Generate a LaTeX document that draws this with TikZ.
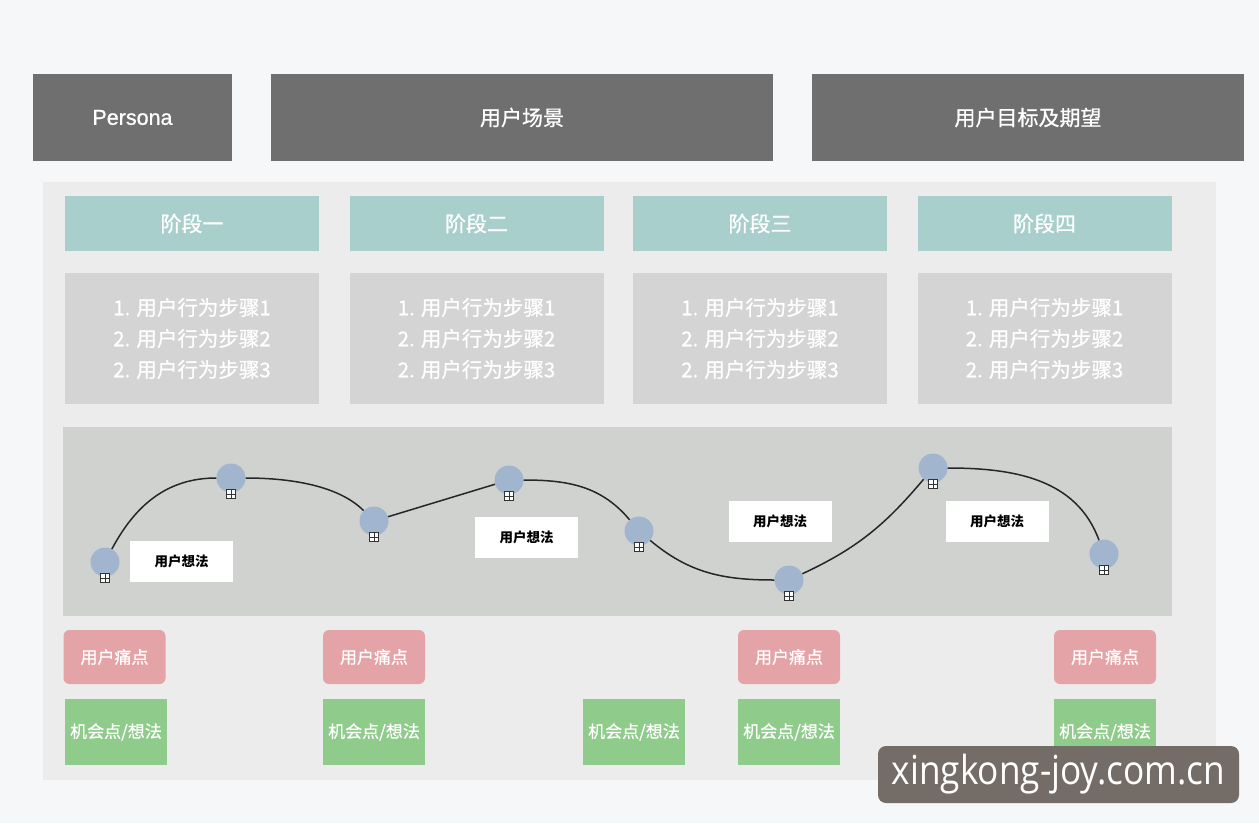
\documentclass[tikz,border=0pt]{standalone}
\usepackage{fontspec}
\setmainfont{Noto Sans CJK SC}
\newfontfamily\medfont[FakeBold=0.8]{Noto Sans CJK SC}
\newfontfamily\wmfont{Open Sans}
\newfontfamily\latfont[FakeBold=0.8]{Liberation Sans}
\usetikzlibrary{calc}
\definecolor{bgc}{HTML}{F6F7F9}
\definecolor{hdrc}{HTML}{6F6F6F}
\definecolor{panelc}{HTML}{ECECEC}
\definecolor{tealc}{HTML}{A9CFCC}
\definecolor{stepc}{HTML}{D3D4D3}
\definecolor{curvec}{HTML}{D0D2CF}
\definecolor{dotc}{HTML}{A1B5CF}
\definecolor{painc}{HTML}{E4A4A7}
\definecolor{oppc}{HTML}{8FCB8B}
\definecolor{wmc}{HTML}{746C67}
\tikzset{
  hdrbox/.style={fill=hdrc, text=white, minimum height=87pt, inner sep=0pt, font=\medfont\fontsize{21}{25}\selectfont},
  stagebox/.style={fill=tealc, text=white, minimum width=254pt, minimum height=55pt, inner sep=0pt, font=\medfont\fontsize{21}{25}\selectfont},
  stepbox/.style={fill=stepc, text=white, minimum width=254pt, minimum height=131pt, inner sep=0pt, align=center, font=\medfont\fontsize{20.5}{31}\selectfont},
  dotnode/.style={circle, fill=dotc, minimum size=29pt, inner sep=0pt},
  iconnode/.style={draw=black!80, fill=white, line width=0.8pt, minimum size=9pt, inner sep=0pt,
    path picture={\draw[line width=0.7pt, black!80] (path picture bounding box.north) -- (path picture bounding box.south)
      (path picture bounding box.west) -- (path picture bounding box.east);}},
  ideabox/.style={fill=white, text=black, minimum width=103pt, minimum height=41pt, inner sep=0pt, font=\fontsize{13.5}{16}\selectfont\bfseries},
  painbox/.style={fill=painc, text=white, rounded corners=6pt, minimum width=102pt, minimum height=54pt, inner sep=0pt, font=\medfont\fontsize{17}{20}\selectfont},
  oppbox/.style={fill=oppc, text=white, minimum width=102pt, minimum height=66pt, inner sep=0pt, font=\medfont\fontsize{17}{20}\selectfont},
  curveline/.style={draw=black!85, line width=1.5pt},
}
\begin{document}
\begin{tikzpicture}[x=1pt,y=-1pt]
\fill[bgc] (0,0) rectangle (1259,823);
\useasboundingbox (0,0) rectangle (1259,823);
% headers
\node[hdrbox, minimum width=199pt, font=\latfont\fontsize{21.5}{25}\selectfont] (persona) at (132.5,117.5) {Persona};
\node[hdrbox, minimum width=502pt] (scene) at (522,117.5) {用户场景};
\node[hdrbox, minimum width=432pt] (goal) at (1028,117.5) {用户目标及期望};
% main panel
\fill[panelc] (43,182) rectangle (1216,780);
% stages
\node[stagebox] (s1) at (192,223.5) {阶段一};
\node[stagebox] (s2) at (476.5,223.5) {阶段二};
\node[stagebox] (s3) at (760,223.5) {阶段三};
\node[stagebox] (s4) at (1044.5,223.5) {阶段四};
% steps
\node[stepbox] (b1) at (192,338.5) {1. 用户行为步骤1\\2. 用户行为步骤2\\2. 用户行为步骤3};
\node[stepbox] (b2) at (476.5,338.5) {1. 用户行为步骤1\\2. 用户行为步骤2\\2. 用户行为步骤3};
\node[stepbox] (b3) at (760,338.5) {1. 用户行为步骤1\\2. 用户行为步骤2\\2. 用户行为步骤3};
\node[stepbox] (b4) at (1044.5,338.5) {1. 用户行为步骤1\\2. 用户行为步骤2\\2. 用户行为步骤3};
% curve panel
\fill[curvec] (63,427) rectangle (1172,616);
% idea boxes
\node[ideabox] (t1) at (181.5,561.5) {用户想法};
\node[ideabox] (t2) at (526.5,537.5) {用户想法};
\node[ideabox] (t3) at (780,521.5) {用户想法};
\node[ideabox] (t4) at (997,521.5) {用户想法};
% dots
\node[dotnode] (d1) at (105,562) {};
\node[dotnode] (d2) at (231,478) {};
\node[dotnode] (d3) at (374,521) {};
\node[dotnode] (d4) at (509,480) {};
\node[dotnode] (d5) at (639,531) {};
\node[dotnode] (d6) at (789,580) {};
\node[dotnode] (d7) at (933,468) {};
\node[dotnode] (d8) at (1104,554) {};
% curve
\draw[curveline] (d1) to[out=62,in=180] (d2);
\draw[curveline] (d2) to[out=0,in=135,looseness=0.8] (d3);
\draw[curveline] (d3) -- (d4);
\draw[curveline] (d4) to[out=0,in=130] (d5);
\draw[curveline] (d5) to[out=-40,in=180] (d6);
\draw[curveline] (d6) to[out=25,in=-130] (d7);
\draw[curveline] (d7) to[out=0,in=110] (d8);
% icons
\foreach \i in {1,...,8} { \node[iconnode] (i\i) at ($(d\i)+(0,16)$) {}; }
% pain points
\node[painbox] (p1) at (114.5,657) {用户痛点};
\node[painbox] (p2) at (374,657) {用户痛点};
\node[painbox] (p3) at (789,657) {用户痛点};
\node[painbox] (p4) at (1105,657) {用户痛点};
% opportunities
\node[oppbox] (o1) at (116,732) {机会点/想法};
\node[oppbox] (o2) at (374,732) {机会点/想法};
\node[oppbox] (o3) at (634,732) {机会点/想法};
\node[oppbox] (o4) at (789,732) {机会点/想法};
\node[oppbox] (o5) at (1105,732) {机会点/想法};
% watermark
\node[fill=wmc, text=white, rounded corners=8pt, minimum width=361pt, minimum height=57pt, inner sep=0pt,
  font=\wmfont\fontsize{40}{44}\selectfont] (wm) at (1058.5,774.5) {\scalebox{0.88}[1]{xingkong-joy.com.cn}};
\end{tikzpicture}
\end{document}
